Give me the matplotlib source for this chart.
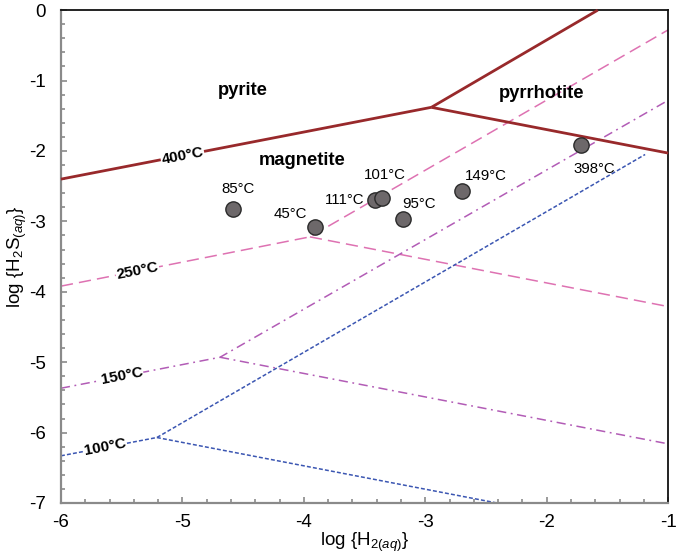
import numpy as np
import matplotlib
matplotlib.use("Agg")
import matplotlib.pyplot as plt

plt.rcParams['font.family'] = ['Liberation Sans', 'DejaVu Sans']
plt.rcParams['mathtext.fontset'] = 'custom'
plt.rcParams['mathtext.rm'] = 'Liberation Sans'
plt.rcParams['mathtext.it'] = 'Liberation Sans:italic'

# ---- data ----
# mineral boundaries (solid)
pyrite_magnetite_x = [-6.0, -2.95]
pyrite_magnetite_y = [-2.40, -1.38]
pyrite_pyrrhotite_x = [-2.95, -1.58]
pyrite_pyrrhotite_y = [-1.38, 0.0]
pyrrhotite_magnetite_x = [-2.95, -1.0]
pyrrhotite_magnetite_y = [-1.38, -2.03]

# isotherms: (x, y) for left branch + two right branches
t250_x = [-6.0, -3.95, -1.0]
t250_y = [-3.92, -3.22, -0.28]
t250_low_x = [-3.95, -1.0]
t250_low_y = [-3.22, -4.21]

t150_x = [-6.0, -4.69, -1.0]
t150_y = [-5.37, -4.93, -1.28]
t150_low_x = [-4.69, -1.0]
t150_low_y = [-4.93, -6.16]

t100_x = [-6.0, -5.21, -1.19]
t100_y = [-6.33, -6.07, -2.05]
t100_low_x = [-5.21, -2.41]
t100_low_y = [-6.07, -7.0]

# samples
sample_labels = ['85°C', '45°C', '111°C', '101°C', '95°C', '149°C', '398°C']
sample_h2 = [-4.58, -3.91, -3.41, -3.36, -3.18, -2.70, -1.72]
sample_h2s = [-2.82, -3.08, -2.70, -2.67, -2.96, -2.57, -1.91]
label_offsets_px = [(5, 20), (-24, 13), (-31, 0), (3, 23), (16, 15), (24, 15), (14, -24)]

x_ticks = [-6, -5, -4, -3, -2, -1]
y_ticks = [0, -1, -2, -3, -4, -5, -6, -7]

RED = '#98292b'
PINK = '#de72b2'
PURPLE = '#b25cb6'
BLUE = '#3b56b2'

fig = plt.figure(figsize=(6.77, 5.55), dpi=100)
ax = fig.add_axes([0.090, 0.0937, 0.897, 0.888])
ax.set_xlim(-6, -1)
ax.set_ylim(-7, 0)

# mineral boundaries
for xs, ys in [(pyrite_magnetite_x, pyrite_magnetite_y),
               (pyrite_pyrrhotite_x, pyrite_pyrrhotite_y),
               (pyrrhotite_magnetite_x, pyrrhotite_magnetite_y)]:
    ax.plot(xs, ys, color=RED, lw=2.0, solid_capstyle='butt', zorder=3, clip_on=False)

# isotherms
ax.plot(t250_x, t250_y, color=PINK, lw=1.1, dashes=(8, 4), zorder=2)
ax.plot(t250_low_x, t250_low_y, color=PINK, lw=1.1, dashes=(8, 4), zorder=2)
ax.plot(t150_x, t150_y, color=PURPLE, lw=1.1, dashes=(6, 3, 1.2, 3), zorder=2)
ax.plot(t150_low_x, t150_low_y, color=PURPLE, lw=1.1, dashes=(6, 3, 1.2, 3), zorder=2)
ax.plot(t100_x, t100_y, color=BLUE, lw=1.1, dashes=(2.6, 1.4), zorder=2)
ax.plot(t100_low_x, t100_low_y, color=BLUE, lw=1.1, dashes=(2.6, 1.4), zorder=2)

# isotherm labels on lines
def line_label(x, xs, ys, text):
    y = np.interp(x, xs, ys)
    ang = np.degrees(np.arctan2(ys[1] - ys[0], xs[1] - xs[0]))
    ax.text(x, y, text, fontsize=11, fontweight='bold', ha='center', va='center',
            rotation=ang, transform_rotates_text=True, rotation_mode='anchor',
            bbox=dict(fc='white', ec='none', pad=0.5), zorder=4)

line_label(-5.0, pyrite_magnetite_x, pyrite_magnetite_y, '400°C')
line_label(-5.37, t250_x[:2], t250_y[:2], '250°C')
line_label(-5.5, t150_x[:2], t150_y[:2], '150°C')
line_label(-5.64, t100_x[:2], t100_y[:2], '100°C')

# region labels
ax.text(-4.50, -1.14, 'pyrite', fontsize=13.2, fontweight='bold', ha='center', va='center')
ax.text(-2.04, -1.18, 'pyrrhotite', fontsize=13.2, fontweight='bold', ha='center', va='center')
ax.text(-4.01, -2.14, 'magnetite', fontsize=13.2, fontweight='bold', ha='center', va='center')

# samples
ax.plot(sample_h2, sample_h2s, 'o', ms=11, mfc='#6d686a', mec='#2a2a2a', mew=1.0,
        ls='none', zorder=5)
for lab, x, y, (dx, dy) in zip(sample_labels, sample_h2, sample_h2s, label_offsets_px):
    ax.annotate(lab, (x, y), xytext=(dx / 1.389, dy / 1.389), textcoords='offset points',
                ha='center', va='center', fontsize=10.8, zorder=6)

# axes styling
ax.set_xticks(x_ticks)
ax.set_yticks(y_ticks)
ax.set_xticklabels([str(t) for t in x_ticks])
ax.set_yticklabels([str(t) for t in y_ticks])
ax.set_xticks(np.arange(-6, -0.99, 0.2), minor=True)
ax.set_yticks(np.arange(-7, 0.01, 0.2), minor=True)
ax.tick_params(which='both', direction='in', color='#8a8a8a', width=1.2,
               labelsize=13.5, top=False, right=False)
ax.tick_params(which='major', length=4)
ax.tick_params(axis='x', which='major', pad=8)
ax.tick_params(axis='y', which='major', pad=11)
ax.tick_params(which='minor', length=3)
for s in ['left', 'bottom']:
    ax.spines[s].set_color('#8a8a8a')
    ax.spines[s].set_linewidth(1.6)
for s in ['top', 'right']:
    ax.spines[s].set_color('#111111')
    ax.spines[s].set_linewidth(1.3)

ax.set_xlabel(r'log {H$_{2(\mathit{aq})}$}', fontsize=13.5, labelpad=0)
ax.set_ylabel(r'log {H$_2$S$_{(\mathit{aq})}$}', fontsize=13.5, labelpad=0)

fig.savefig('out.png', dpi=100)
